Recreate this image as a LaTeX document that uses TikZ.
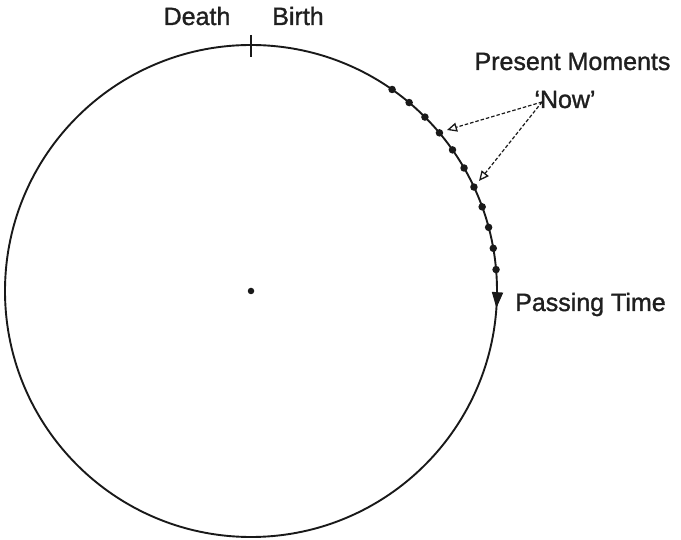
\documentclass[tikz,border=0pt]{standalone}
\usepackage{fontspec}
\setmainfont{Liberation Sans}
\newfontfamily\lblfont[FakeBold=1.2,Ligatures=TeX]{Liberation Sans}
\usetikzlibrary{arrows.meta,calc}
\begin{document}
\begin{tikzpicture}[x=1pt,y=1pt,
  lbl/.style={inner sep=0pt,font=\lblfont\fontsize{25}{28}\selectfont,text=black!88},
  moment/.style={circle,fill=black!90,inner sep=0pt,minimum size=7.5pt},
  ring/.style={line width=1.9pt,black!90},
  pointer/.style={dash pattern=on 3.5pt off 2pt,line width=1.2pt,black!90,-{Triangle[open,length=10pt,width=9pt,line width=1.3pt]}}]
\useasboundingbox (0,0) rectangle (681,539);
\coordinate (c) at (251,248);
\draw[ring] (c) circle[radius=246pt];
\node[moment,minimum size=6.5pt] (centre) at (c) {};
\coordinate (t1) at (251,504);
\coordinate (t2) at (251,482);
\draw[ring] (t1) -- (t2);
\node[lbl,anchor=base] (death) at (197,514) {Death};
\node[lbl,anchor=base] (birth) at (298,514) {Birth};
\foreach \a in {5,10,...,55} {
  \node[moment] (m\a) at ($(c)+(\a:246pt)$) {};
}
\coordinate (a1) at ($(c)+(1:246pt)$);
\draw[ring,-{Triangle[length=16pt,width=11pt]}] (a1) arc[start angle=1,end angle=-4,radius=246pt];
\node[lbl,anchor=base] (present) at (572.5,469) {Present Moments};
\node[lbl,anchor=base] (now) at (565,431) {‘Now’};
\coordinate (src) at (542,437);
\coordinate (tip1) at (447,409);
\coordinate (tip2) at (479,358);
\draw[pointer] (src) -- (tip1);
\draw[pointer] (src) -- (tip2);
\node[lbl,anchor=base west] (passing) at (515,228) {Passing Time};
\end{tikzpicture}
\end{document}
